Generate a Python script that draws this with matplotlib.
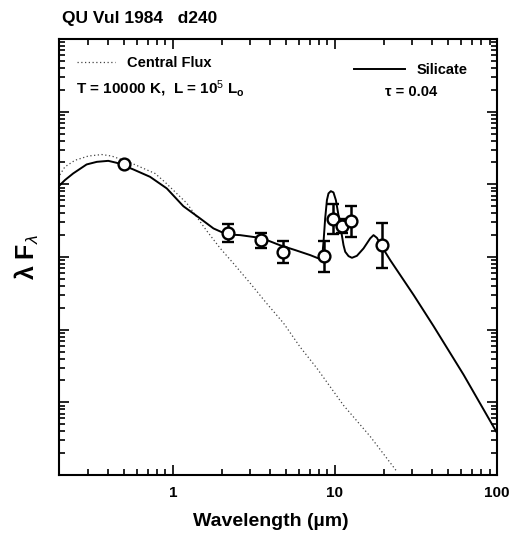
import numpy as np
import matplotlib
matplotlib.use("Agg")
import matplotlib.pyplot as plt
from matplotlib.ticker import LogLocator, NullFormatter, FixedLocator, FixedFormatter

plt.rcParams['font.family'] = ['Liberation Sans', 'DejaVu Sans']
plt.rcParams['mathtext.fontset'] = 'custom'
plt.rcParams['mathtext.rm'] = 'Liberation Sans'
plt.rcParams['mathtext.it'] = 'Liberation Sans:italic'
plt.rcParams['mathtext.bf'] = 'Liberation Sans:bold'

# Silicate model curve
sil_wl = [0.201, 0.216, 0.243, 0.294, 0.340, 0.400, 0.451, 0.491, 0.571, 0.724, 0.918, 1.162,
          1.474, 1.782, 2.154, 2.603, 3.54, 4.59, 5.69, 7.04, 8.11, 8.31, 8.51, 8.71, 8.93,
          9.13, 9.44, 9.80, 10.14, 10.52, 10.78, 11.30, 11.58, 12.14, 12.74, 13.67, 15.02,
          16.51, 17.31, 18.16, 19.51, 21.94, 30.6, 40.6, 62.2, 100.0]
sil_flux = [9750, 11430, 14130, 18780, 20400, 21050, 19770, 18370, 16030, 12690, 8790, 5000,
            3396, 2473, 2046, 2000, 1820, 1450, 1245, 1062, 936, 906, 1618, 3396, 6067,
            7500, 8060, 7740, 6067, 3770, 2748, 1458, 1180, 1028, 975, 1038, 1313,
            1803, 2000, 1837, 1381, 906, 300, 112, 24, 3.8]

# Central flux curve
cen_wl = [0.201, 0.216, 0.249, 0.301, 0.365, 0.420, 0.558, 0.778, 0.896, 1.22, 1.62, 1.96,
          2.37, 3.00, 3.80, 4.82, 6.11, 7.74, 11.3, 16.5, 24.1]
cen_flux = [13500, 17400, 21400, 24500, 25700, 24500, 19500, 14100, 10700, 5500, 2290, 1320,
            813, 437, 229, 123, 57.5, 29.5, 9.1, 3.4, 1.12]

# Observations
obs_wl = [0.5, 2.2, 3.5, 4.8, 8.6, 9.8, 11.1, 12.5, 19.5]
obs_flux = [19000, 2140, 1700, 1175, 1020, 3310, 2690, 3090, 1445]
obs_err_dex = [0.0, 0.12, 0.10, 0.15, 0.21, 0.21, 0.10, 0.21, 0.31]

xticks = [1, 10, 100]
xticklabels = ['1', '10', '100']

fig = plt.figure(figsize=(5.11, 5.38), dpi=100)
ax = fig.add_axes([0.1164, 0.1171, 0.8562, 0.8104])

ax.plot(cen_wl, cen_flux, color='#444444', lw=0.9, linestyle=(0, (1, 2)), label='Central Flux')
ax.plot(sil_wl, sil_flux, color='black', lw=1.4, label='Silicate')

of = np.array(obs_flux)
ed = np.array(obs_err_dex)
yerr = np.vstack([of * (1 - 10 ** (-ed)), of * (10 ** ed - 1)])
ax.errorbar(obs_wl, obs_flux, yerr=yerr, fmt='o', ms=8.5, mfc='white', mec='black', mew=1.7,
            ecolor='black', elinewidth=1.8, capsize=4.3, capthick=1.8, zorder=5)

ax.set_xscale('log')
ax.set_yscale('log')
ax.set_xlim(0.2, 100)
ax.set_ylim(1, 1e6)

ax.xaxis.set_major_locator(FixedLocator(xticks))
ax.xaxis.set_major_formatter(FixedFormatter(xticklabels))
ax.xaxis.set_minor_locator(LogLocator(base=10, subs=np.arange(2, 10)))
ax.xaxis.set_minor_formatter(NullFormatter())
ax.yaxis.set_major_locator(LogLocator(base=10, numticks=20))
ax.yaxis.set_minor_locator(LogLocator(base=10, subs=np.arange(2, 10), numticks=20))
ax.yaxis.set_major_formatter(NullFormatter())
ax.yaxis.set_minor_formatter(NullFormatter())

ax.tick_params(which='both', direction='in', top=True, right=True, width=1.2)
ax.tick_params(which='major', length=7)
ax.tick_params(which='minor', length=4)
ax.tick_params(axis='x', labelsize=11, pad=8)
for lab in ax.get_xticklabels():
    lab.set_fontweight('bold')
for s in ax.spines.values():
    s.set_linewidth(1.5)

ax.set_xlabel('Wavelength (µm)', fontsize=14, fontweight='bold', labelpad=7)
ax.xaxis.set_label_coords(0.482, -0.088)
ax.set_ylabel('λ F$_{λ}$', fontsize=18, fontweight='bold', labelpad=10)

h = ax.get_legend_handles_labels()[0]
leg1 = ax.legend([h[0]], ['Central Flux'], loc='upper left', frameon=False,
                 prop={'size': 10.5, 'weight': 'bold'}, handlelength=2.6, bbox_to_anchor=(0.01, 0.99))
ax.add_artist(leg1)
ax.legend([h[1]], ['Silicate'], loc='upper right', frameon=False,
          prop={'size': 10.5, 'weight': 'bold'}, handlelength=3.5, bbox_to_anchor=(0.962, 0.975))

ax.text(0.038, 0.885, 'T = 10000 K,  L = 10$^5$ L$_\\mathregular{o}$', transform=ax.transAxes,
        fontsize=11, fontweight='bold', va='center')
ax.text(0.745, 0.878, 'τ = 0.04', transform=ax.transAxes, fontsize=10.5, fontweight='bold', va='center')

fig.text(0.121, 0.98, 'QU Vul 1984   d240', fontsize=12.5, fontweight='bold', va='top')

fig.savefig('out.png', dpi=100)
